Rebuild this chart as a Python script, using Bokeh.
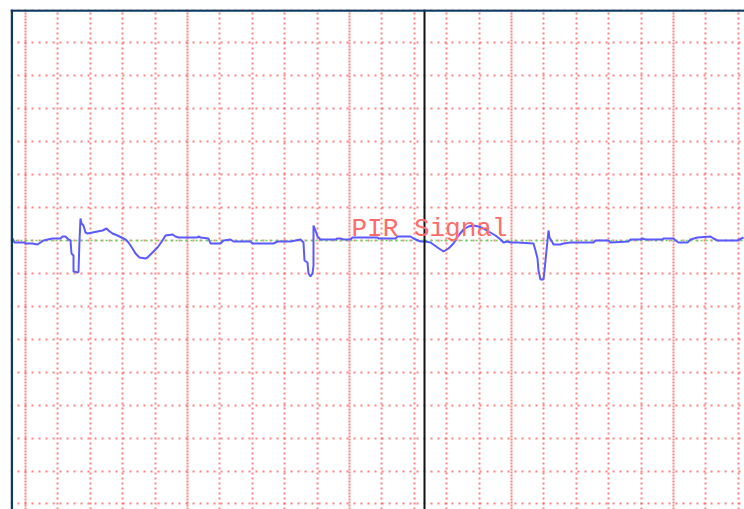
from bokeh.plotting import figure
from bokeh.models import Grid, FixedTicker, Span, Label, Range1d
from bokeh.embed import file_html
from bokeh.resources import INLINE

# Sample index and ADC amplitude (baseline = 0)
sample = [1, 3, 13, 14, 21, 26, 29, 32, 41, 49, 51, 54, 57, 59, 60, 62, 62, 66, 67, 68,
          69, 70, 72, 74, 76, 81, 86, 91, 95, 97, 101, 106, 114, 117, 121, 124, 128, 134, 136, 141,
          146, 151, 154, 161, 164, 167, 186, 187, 189, 197, 199, 209, 212, 219, 222, 239, 241, 262, 266, 279,
          289, 292, 293, 296, 297, 299, 301, 302, 302, 304, 306, 309, 324, 326, 329, 332, 339, 341, 366, 367,
          384, 386, 399, 402, 409, 414, 419, 426, 432, 437, 442, 447, 452, 457, 462, 467, 472, 477, 484, 489,
          492, 496, 499, 506, 522, 524, 526, 527, 529, 532, 533, 536, 537, 538, 541, 542, 549, 552, 559, 566,
          582, 584, 597, 599, 617, 619, 629, 631, 634, 651, 652, 662, 664, 667, 676, 679, 686, 699, 702, 706,
          726, 732]
signal = [2, -2, -2, -3, -3, -4, -2, 0, 2, 2, 4, 4, 1, 0, -13, -15, -31, -32, -31, 0,
          22, 17, 15, 8, 7, 8, 9, 10, 12, 10, 7, 5, 1, -2, -8, -13, -17, -18, -17, -12,
          -7, 0, 5, 6, 4, 3, 3, 4, 3, 2, -3, -3, 0, 1, -1, -1, -3, -3, -1, -1,
          1, -2, -20, -22, -33, -36, -33, -25, 15, 10, 4, 1, 1, 2, 2, 1, 1, 3, 3, 2,
          2, 4, 4, 2, -1, -1, -2, -7, -11, -8, -3, 5, 11, 14, 15, 14, 12, 9, 5, 1,
          -2, -1, -2, -2, -3, -10, -18, -30, -39, -39, -30, 0, 10, 3, -2, -4, -4, -3, -2, -2,
          -2, 0, 0, -2, -1, 1, 1, 2, 1, 1, 2, 2, 0, -2, -2, 1, 3, 4, 2, 0,
          0, 3]

baseline_level = 0
cursor_sample = 413
title_text = "PIR Signal"

x_start, x_end = -1, 733
y_start, y_end = -269, 231

p = figure(width=744, height=509, output_backend="svg", toolbar_location=None,
           x_range=Range1d(x_start, x_end), y_range=Range1d(y_start, y_end),
           x_axis_location=None, y_axis_location=None,
           min_border_left=10, min_border_top=9, min_border_right=0, min_border_bottom=0,
           outline_line_color=None, background_fill_color="white", border_fill_color="white")
p.grid.visible = False

x_div = 32.4
y_div = 32.93
x_all = [14 + x_div * k for k in range(23)]
x_major = [t for i, t in enumerate(x_all) if i % 5 == 0]
x_minor = [t for i, t in enumerate(x_all) if i % 5 != 0]
y_ticks = [y_div * j for j in range(-8, 8)]

grid_col = "#ff5a5a"
p.add_layout(Grid(dimension=0, ticker=FixedTicker(ticks=x_minor), grid_line_color=grid_col,
                  grid_line_alpha=0.75, grid_line_width=2, grid_line_dash="2 3"))
p.add_layout(Grid(dimension=0, ticker=FixedTicker(ticks=x_major), grid_line_color=grid_col,
                  grid_line_alpha=0.75, grid_line_width=2, grid_line_dash="2 1"))
p.add_layout(Grid(dimension=1, ticker=FixedTicker(ticks=y_ticks), grid_line_color=grid_col,
                  grid_line_alpha=0.75, grid_line_width=2, grid_line_dash="2 5"))

p.add_layout(Span(location=baseline_level, dimension="width", line_color="#55dd55",
                  line_width=1.5, line_dash="2 3", level="underlay"))

p.line(sample, signal, line_color="#5a5aff", line_width=2)

p.add_layout(Span(location=cursor_sample, dimension="height", line_color="#111111", line_width=2))
p.add_layout(Span(location=0.3, dimension="height", line_color="#0f3b63", line_width=2.5))
p.add_layout(Span(location=230, dimension="width", line_color="#0f3b63", line_width=2.5))

p.add_layout(Label(x=340, y=12, text=title_text, text_font="Liberation Mono",
                   text_font_size="26px", text_color="#ff6a6a", text_baseline="alphabetic"))

open("out.html", "w").write(file_html(p, INLINE))
